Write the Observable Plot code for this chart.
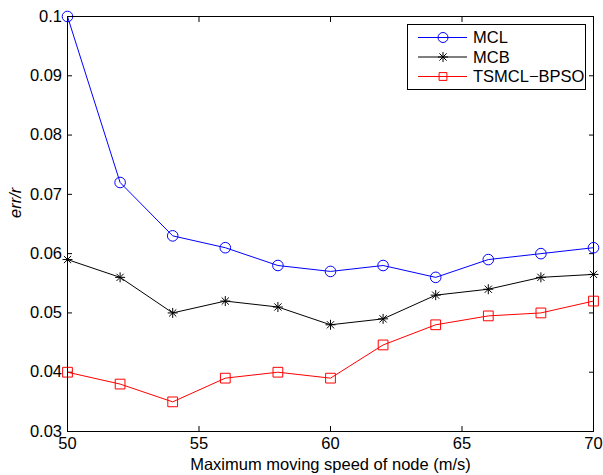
<!DOCTYPE html>
<html>
<head>
<meta charset="utf-8">
<script src="https://cdn.jsdelivr.net/npm/d3@7"></script>
<script src="https://cdn.jsdelivr.net/npm/@observablehq/plot@0.6"></script>
<style>
  html, body { margin: 0; padding: 0; background: #fff; }
  #chart { position: relative; width: 603px; height: 475px; }
</style>
</head>
<body>
<div id="chart"></div>
<script>
const speeds = [50, 52, 54, 56, 58, 60, 62, 64, 66, 68, 70];
const mcl    = [0.100, 0.072, 0.063, 0.061, 0.058, 0.057, 0.058, 0.056, 0.059, 0.060, 0.061];
const mcb    = [0.059, 0.056, 0.050, 0.052, 0.051, 0.048, 0.049, 0.053, 0.054, 0.056, 0.0565];
const tsmcl  = [0.040, 0.038, 0.035, 0.039, 0.040, 0.039, 0.0446, 0.048, 0.0495, 0.050, 0.052];
const seriesNames = ["MCL", "MCB", "TSMCL\u2212BPSO"];
const seriesColors = ["#0000ff", "#000000", "#ff0000"];
const xTicks = [50, 55, 60, 65, 70];
const yTicks = [0.03, 0.04, 0.05, 0.06, 0.07, 0.08, 0.09, 0.1];
const xLabel = "Maximum moving speed of node (m/s)";
const yLabel = "err/r";

const FONT = "'Liberation Sans', Arial, Helvetica, sans-serif";
const FS = 16.5;

// MATLAB-like '*' marker (plus + cross)
const star = {
  draw(ctx, size) {
    const r = Math.sqrt(size / Math.PI);
    const d = r * 0.72;
    ctx.moveTo(-r, 0); ctx.lineTo(r, 0);
    ctx.moveTo(0, -r); ctx.lineTo(0, r);
    ctx.moveTo(-d, -d); ctx.lineTo(d, d);
    ctx.moveTo(-d, d); ctx.lineTo(d, -d);
  }
};
const symbols = ["circle", star, "square"];
const radii = [5.3, 5, 5.5];
const legendRadii = [5, 5, 4.4];

const allSeries = [mcl, mcb, tsmcl];
const rows = [];
allSeries.forEach((vals, si) => {
  vals.forEach((v, i) => rows.push({series: seriesNames[si], x: speeds[i], y: v}));
});

const marks = [];
allSeries.forEach((vals, si) => {
  const data = rows.filter(d => d.series === seriesNames[si]);
  marks.push(Plot.line(data, {x: "x", y: "y", stroke: seriesColors[si], strokeWidth: 1}));
  marks.push(Plot.dot(data, {x: "x", y: "y", stroke: seriesColors[si], fill: "none", symbol: symbols[si], r: radii[si], strokeWidth: 1}));
});

const plot = Plot.plot({
  width: 603,
  height: 475,
  marginLeft: 67,
  marginRight: 10,
  marginTop: 16,
  marginBottom: 44,
  style: {fontFamily: FONT, fontSize: FS + "px", color: "#000", background: "#fff", overflow: "visible"},
  x: {domain: [50, 70], ticks: xTicks},
  y: {domain: [0.03, 0.1], ticks: yTicks},
  marks: [
    Plot.axisX({anchor: "bottom", ticks: xTicks, tickSize: -5, tickPadding: 11, label: null, fontSize: FS}),
    Plot.axisX({anchor: "top", ticks: xTicks, tickSize: -5, tickFormat: () => "", label: null}),
    Plot.axisY({anchor: "left", ticks: yTicks, tickSize: -5, tickPadding: 10.5, label: null, fontSize: FS,
                tickFormat: d => String(+d.toFixed(2))}),
    Plot.axisY({anchor: "right", ticks: yTicks, tickSize: -5, tickFormat: () => "", label: null}),
    ...marks,
    Plot.frame({stroke: "#000", strokeWidth: 1}),
    Plot.text([xLabel], {text: d => d, frameAnchor: "bottom", dy: 33, lineAnchor: "middle", fontSize: FS}),
    Plot.text([yLabel], {text: d => d, frameAnchor: "left", dx: -52, dy: -6, rotate: -90, lineAnchor: "middle", fontSize: FS, fontStyle: "italic"})
  ]
});

document.getElementById("chart").appendChild(plot);

// Legend (drawn into the plot SVG)
const svg = d3.select(plot);
const lg = svg.append("g").attr("font-family", FONT).attr("font-size", FS).attr("text-anchor", "start");
const L = {x: 407, y: 24, w: 178, h: 65};
lg.append("rect").attr("x", L.x + 0.5).attr("y", L.y + 0.5).attr("width", L.w).attr("height", L.h)
  .attr("fill", "#fff").attr("stroke", "#000").attr("stroke-width", 1);
const rowY = [37.5, 57, 76.5];
seriesNames.forEach((name, i) => {
  const y = rowY[i];
  lg.append("line").attr("x1", 418).attr("x2", 467).attr("y1", y).attr("y2", y)
    .attr("stroke", seriesColors[i]).attr("stroke-width", 1);
  const sym = typeof symbols[i] === "string"
    ? (symbols[i] === "circle" ? d3.symbolCircle : d3.symbolSquare) : symbols[i];
  lg.append("path").attr("transform", `translate(443,${y})`)
    .attr("d", d3.symbol(sym, Math.PI * legendRadii[i] * legendRadii[i])())
    .attr("fill", "none").attr("stroke", seriesColors[i]).attr("stroke-width", 1);
  lg.append("text").attr("x", 473).attr("y", y).attr("dy", "0.35em").attr("text-anchor", "start")
    .attr("fill", "#000").text(name);
});
</script>
</body>
</html>
